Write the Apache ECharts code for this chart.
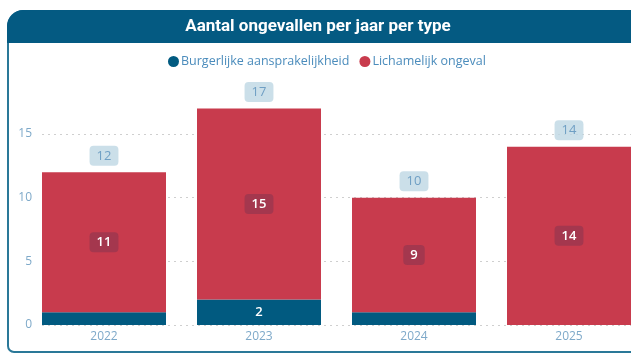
<!DOCTYPE html>
<html>
<head>
<meta charset="utf-8">
<script src="https://cdn.jsdelivr.net/npm/echarts@6/dist/echarts.min.js"></script>
<style>
  html, body { margin: 0; padding: 0; background: #ffffff; }
  #chart { width: 631px; height: 354px; }
</style>
</head>
<body>
<div id="chart"></div>
<script>
// Accidents per year, split by type
const years = ['2022', '2023', '2024', '2025'];
const civilLiability = [1, 2, 1, 0];      // Burgerlijke aansprakelijkheid
const bodilyAccident = [11, 15, 9, 14];   // Lichamelijk ongeval
const yTicks = [0, 5, 10, 15];

const totals = years.map((_, i) => civilLiability[i] + bodilyAccident[i]);

const BLUE = '#015a80';
const RED = '#c83b4d';
const AXIS_TEXT = '#7ea9c9';
const UI_FONT = '"Open Sans", "Noto Sans", sans-serif';

const chart = echarts.init(document.getElementById('chart'), null, { renderer: 'canvas' });

chart.setOption({
  animation: false,
  backgroundColor: '#ffffff',
  graphic: [
    {
      type: 'rect', z: 0,
      shape: { x: 8, y: 11, width: 640, height: 341, r: [16, 0, 0, 6] },
      style: { fill: '#ffffff', stroke: '#2a7898', lineWidth: 2 }
    },
    {
      type: 'rect', z: 1,
      shape: { x: 7, y: 10, width: 640, height: 33, r: [16, 0, 0, 0] },
      style: { fill: '#045a82' }
    },
    {
      type: 'text', z: 2,
      x: 318, y: 27,
      style: {
        text: 'Aantal ongevallen per jaar per type',
        fill: '#ffffff',
        font: 'bold 17px Roboto, sans-serif',
        align: 'center',
        verticalAlign: 'middle'
      }
    }
  ],
  legend: {
    top: 50,
    left: 163,
    itemGap: 10,
    itemWidth: 11,
    itemHeight: 11,
    icon: 'circle',
    data: ['Burgerlijke aansprakelijkheid', 'Lichamelijk ongeval'],
    textStyle: { color: '#4b8cbc', fontSize: 12.5, fontFamily: UI_FONT, padding: [0, 0, 0, -3] }
  },
  grid: [
    { left: 42, right: 0, top: 134, bottom: 29, outerBoundsMode: 'none' },
    { left: 26.5, width: 620, top: 134, bottom: 29, outerBoundsMode: 'none' }
  ],
  xAxis: [
    { gridIndex: 0, type: 'value', show: false, min: 0, max: 1 },
    {
      gridIndex: 1, type: 'category', data: years,
      axisLine: { show: false }, axisTick: { show: false },
      axisLabel: { color: AXIS_TEXT, fontSize: 12, fontFamily: UI_FONT, margin: 6 }
    }
  ],
  yAxis: [
    {
      gridIndex: 0, type: 'value',
      min: yTicks[0], max: yTicks[yTicks.length - 1], interval: yTicks[1] - yTicks[0],
      axisLine: { show: false }, axisTick: { show: false },
      axisLabel: { color: AXIS_TEXT, fontSize: 12, fontFamily: UI_FONT, margin: 10 },
      splitLine: { lineStyle: { color: '#cfcfcf', type: [2, 4], width: 1 } }
    },
    {
      gridIndex: 1, type: 'value', show: false,
      min: yTicks[0], max: yTicks[yTicks.length - 1]
    }
  ],
  series: [
    {
      name: 'Burgerlijke aansprakelijkheid',
      type: 'bar', stack: 'total', xAxisIndex: 1, yAxisIndex: 1,
      barWidth: 124, clip: false,
      itemStyle: { color: BLUE },
      data: civilLiability,
      label: {
        show: true, position: 'inside',
        color: '#ffffff', fontSize: 13, fontWeight: 600, fontFamily: UI_FONT,
        formatter: p => (p.value >= 2 ? String(p.value) : '')
      }
    },
    {
      name: 'Lichamelijk ongeval',
      type: 'bar', stack: 'total', xAxisIndex: 1, yAxisIndex: 1,
      barWidth: 124, clip: false,
      itemStyle: { color: RED },
      data: bodilyAccident,
      label: {
        show: true, position: 'inside',
        color: '#ffffff', fontSize: 13, fontWeight: 600, fontFamily: UI_FONT,
        backgroundColor: 'rgba(120, 50, 80, 0.45)',
        borderRadius: 4, padding: [4, 7, 3, 7]
      }
    },
    {
      name: 'Totaal',
      type: 'line', xAxisIndex: 1, yAxisIndex: 1,
      data: totals, clip: false, silent: true,
      symbol: 'circle', symbolSize: 1, showSymbol: true,
      itemStyle: { color: 'rgba(0,0,0,0)' },
      lineStyle: { width: 0, color: 'rgba(0,0,0,0)' },
      label: {
        show: true, position: 'top', distance: 6,
        color: '#6f9fc4', fontSize: 13, fontFamily: UI_FONT,
        backgroundColor: 'rgba(190, 215, 228, 0.8)',
        borderRadius: 4, padding: [4, 7, 3, 7]
      },
      tooltip: { show: false }
    }
  ]
});
</script>
</body>
</html>
